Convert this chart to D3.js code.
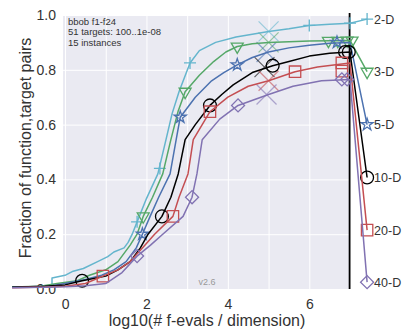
<!DOCTYPE html>
<meta charset="utf-8">
<style>
body { margin: 0; background: #fff; }
text { font-family: "Liberation Sans", Arial, sans-serif; }
</style>
<svg width="403" height="332"></svg>
<script src="https://d3js.org/d3.v7.min.js"></script>
<script>
// dimensions, colours, end-of-line labels
var dims = ["2-D", "3-D", "5-D", "10-D", "20-D", "40-D"];
var colors = ["#64b5cd", "#55a868", "#4c72b0", "#000000", "#c44e52", "#8172b2"];
var markers = ["plus", "tri", "star", "circle", "square", "diamond"];
var labelX = 7.42;
var labelY = [0.985, 0.793, 0.6, 0.407, 0.215, 0.025];

// ECDF values, [log10(evals/dim), fraction]
var ecdf2 = [[-1.3,0.007],[-0.32,0.007],[-0.32,0.04],[0,0.05],[0.2,0.065],[0.45,0.075],[0.8,0.1],[1.05,0.118],[1.2,0.135],[1.45,0.15],[1.55,0.17],[1.65,0.2],[1.77,0.245],[2.0,0.33],[2.28,0.42],[2.48,0.545],[2.63,0.64],[2.8,0.72],[3.07,0.825],[3.3,0.87],[3.7,0.9],[4.2,0.92],[4.6,0.93],[5.0,0.94],[5.5,0.95],[6.0,0.962],[6.5,0.966],[7.0,0.97]];
var ecdf3 = [[-1.3,0.007],[-0.6,0.01],[-0.2,0.02],[0.3,0.03],[0.6,0.05],[1.0,0.07],[1.3,0.1],[1.6,0.16],[1.77,0.2],[1.92,0.265],[2.15,0.335],[2.4,0.42],[2.6,0.545],[2.78,0.65],[2.95,0.72],[3.3,0.78],[3.65,0.83],[3.95,0.865],[4.23,0.885],[4.6,0.895],[5.0,0.9],[6.0,0.905],[7.0,0.907]];
var ecdf5 = [[-1.3,0.006],[-0.4,0.01],[0.0,0.02],[0.5,0.035],[0.9,0.05],[1.2,0.07],[1.5,0.1],[1.75,0.15],[1.9,0.2],[2.09,0.265],[2.3,0.335],[2.58,0.42],[2.73,0.545],[2.83,0.627],[3.2,0.7],[3.6,0.76],[3.9,0.79],[4.23,0.818],[4.6,0.845],[5.0,0.865],[5.5,0.88],[6.0,0.89],[6.5,0.897],[7.0,0.9]];
var ecdf10 = [[-1.3,0.006],[-0.5,0.01],[0.0,0.015],[0.42,0.03],[1.0,0.047],[1.3,0.07],[1.6,0.1],[1.85,0.15],[2.04,0.2],[2.38,0.265],[2.6,0.335],[2.78,0.42],[2.95,0.545],[3.2,0.6],[3.56,0.67],[3.85,0.71],[4.13,0.745],[4.6,0.79],[5.1,0.815],[5.5,0.83],[6.0,0.85],[6.5,0.86],[7.0,0.865]];
var ecdf20 = [[-1.3,0.005],[-0.5,0.007],[0.0,0.01],[0.5,0.02],[0.93,0.047],[1.3,0.07],[1.6,0.1],[1.9,0.15],[2.2,0.2],[2.65,0.265],[2.8,0.335],[3.02,0.42],[3.15,0.545],[3.56,0.647],[4.0,0.7],[4.5,0.74],[5.0,0.76],[5.65,0.793],[6.2,0.81],[7.0,0.825]];
var ecdf40 = [[-1.3,0.005],[-0.5,0.006],[0.0,0.008],[0.5,0.012],[1.0,0.02],[1.4,0.06],[1.77,0.12],[2.1,0.16],[2.4,0.2],[2.9,0.265],[3.12,0.335],[3.24,0.42],[3.37,0.545],[3.8,0.62],[4.25,0.67],[5.0,0.71],[5.6,0.74],[6.3,0.76],[7.0,0.765]];

// marker positions on each line
var marks2 = [[1.77,0.245],[2.33,0.44],[3.07,0.825],[6.0,0.962],[7.0,0.97]];
var marks3 = [[1.92,0.265],[2.95,0.72],[4.23,0.885],[6.47,0.906],[6.93,0.907],[7.05,0.907],[6.7,0.906]];
var marks5 = [[1.9,0.2],[2.83,0.627],[4.23,0.818],[6.68,0.9]];
var marks10 = [[0.42,0.03],[2.38,0.265],[3.56,0.67],[5.1,0.815],[6.88,0.865],[6.97,0.865]];
var marks20 = [[0.93,0.047],[2.65,0.265],[3.56,0.647],[5.65,0.793],[6.8,0.825],[6.8,0.795]];
var marks40 = [[1.77,0.12],[3.12,0.335],[4.25,0.67],[6.8,0.765],[6.93,0.765]];

// big crosses
var crossX = [5.0, 5.0, 4.95, 4.9, 5.0, 4.95];
var crossY = [0.94, 0.9, 0.865, 0.81, 0.76, 0.71];

var xTicks = [0, 1, 2, 3, 4, 5, 6, 7];
var yTicks = [0, 0.2, 0.4, 0.6, 0.8, 1.0];
var maxEvals = 6.99;

var series = [ecdf2, ecdf3, ecdf5, ecdf10, ecdf20, ecdf40];
var marks = [marks2, marks3, marks5, marks10, marks20, marks40];

var svg = d3.select("svg");
var x = d3.scaleLinear().domain([-0.05, 7.0]).range([63, 350]);
var y = d3.scaleLinear().domain([0, 1]).range([289, 15]);

svg.append("rect")
    .attr("x", x.range()[0]).attr("y", y.range()[1])
    .attr("width", x.range()[1] - x.range()[0])
    .attr("height", y.range()[0] - y.range()[1])
    .attr("fill", "#eaeaf2");

var xAxis = svg.append("g")
    .attr("transform", "translate(0," + y.range()[0] + ")")
    .call(d3.axisBottom(x).tickValues(xTicks)
      .tickSize(-(y.range()[0] - y.range()[1])).tickPadding(10)
      .tickFormat(function(d) { return d % 2 === 0 ? d : ""; }));
var yAxis = svg.append("g")
    .attr("transform", "translate(" + x.range()[0] + ",0)")
    .call(d3.axisLeft(y).tickValues(yTicks)
      .tickSize(-(x.range()[1] - x.range()[0])).tickPadding(7)
      .tickFormat(d3.format(".1f")));
svg.selectAll(".domain").remove();
svg.selectAll(".tick line").attr("stroke", "#fff").attr("stroke-width", 1);
svg.selectAll(".tick text").attr("fill", "#333").style("font-size", "14px");

// annotations
var info = ["bbob f1-f24", "51 targets: 100..1e-08", "15 instances"];
svg.selectAll(".info").data(info).enter().append("text")
    .attr("x", 68).attr("y", function(d, i) { return 24.5 + i * 10.5; })
    .attr("fill", "#333").style("font-size", "9.5px")
    .text(function(d) { return d; });
svg.append("text").attr("x", 207).attr("y", 285).attr("text-anchor", "middle")
    .attr("fill", "#999").style("font-size", "9px").text("v2.6");

// max budget line
svg.append("line")
    .attr("x1", x(maxEvals)).attr("x2", x(maxEvals))
    .attr("y1", y(1) - 2).attr("y2", y(0))
    .attr("stroke", "#000").attr("stroke-width", 1.8);

var line = d3.line()
    .x(function(d) { return x(d[0]); })
    .y(function(d) { return y(d[1]); });

function markerPath(kind) {
  if (kind === "plus") return "M-6,0H6M0,-6V6";
  if (kind === "tri") return d3.symbol(d3.symbolTriangle, 62)();
  if (kind === "star") return d3.symbol(d3.symbolStar, 45)();
  if (kind === "circle") return d3.symbol(d3.symbolCircle, 130)();
  if (kind === "square") return d3.symbol(d3.symbolSquare, 130)();
  return d3.symbol(d3.symbolSquare, 85)();
}
function markerRot(kind) {
  if (kind === "tri") return " rotate(180)";
  if (kind === "diamond") return " rotate(45)";
  return "";
}

// crosses first (light), then lines
crossX.forEach(function(cx, i) {
  svg.append("path")
      .attr("d", "M-10,-10L10,10M-10,10L10,-10")
      .attr("transform", "translate(" + x(cx) + "," + y(crossY[i]) + ")")
      .attr("fill", "none").attr("stroke", colors[i])
      .attr("stroke-width", 1.2).attr("opacity", 0.6);
});

series.forEach(function(s, i) {
  var pts = s.concat([[labelX, labelY[i]]]);
  svg.append("path")
      .attr("d", line(pts))
      .attr("fill", "none").attr("stroke", colors[i])
      .attr("stroke-width", 1.5).attr("stroke-linejoin", "round");
  var mk = marks[i].concat([[labelX, labelY[i]]]);
  svg.selectAll(".mk" + i).data(mk).enter().append("path")
      .attr("d", markerPath(markers[i]))
      .attr("transform", function(d) {
        return "translate(" + x(d[0]) + "," + y(d[1]) + ")" + markerRot(markers[i]);
      })
      .attr("fill", "none").attr("stroke", colors[i]).attr("stroke-width", 1.3);
  svg.append("text")
      .attr("x", x(labelX) + 7).attr("y", y(labelY[i]))
      .attr("dy", "0.36em").attr("fill", "#333").style("font-size", "12.5px")
      .text(dims[i]);
});

// axis titles
svg.append("text").attr("x", 207).attr("y", 326).attr("text-anchor", "middle")
    .attr("fill", "#333").style("font-size", "16px")
    .text("log10(# f-evals / dimension)");
svg.append("text")
    .attr("transform", "translate(31,148) rotate(-90)")
    .attr("text-anchor", "middle").attr("fill", "#333").style("font-size", "16px")
    .text("Fraction of function,target pairs");
</script>
